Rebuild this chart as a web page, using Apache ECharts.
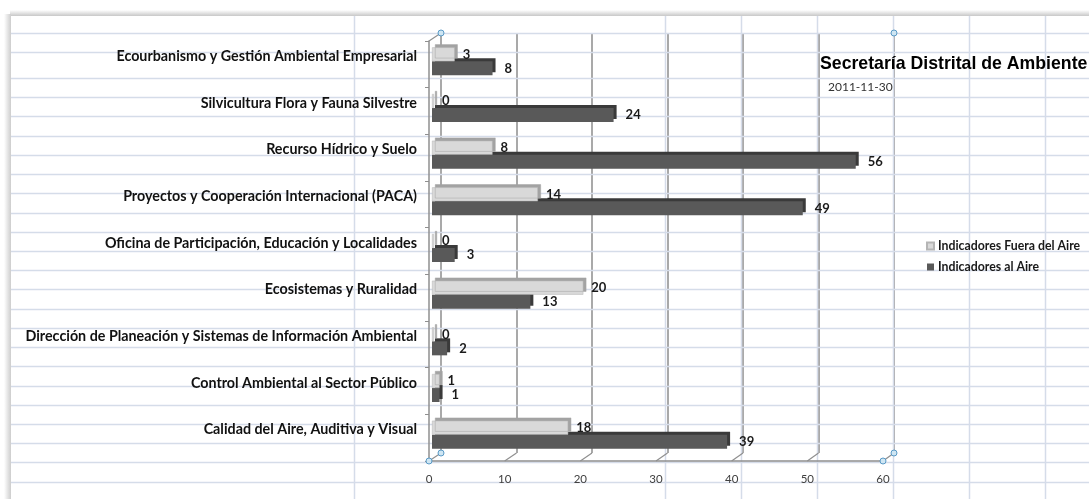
<!DOCTYPE html>
<html>
<head>
<meta charset="utf-8">
<script src="https://cdn.jsdelivr.net/npm/echarts/dist/echarts.min.js"></script>
<style>
html,body{margin:0;padding:0;background:#ffffff;}
#chart{width:1089px;height:499px;}
</style>
</head>
<body>
<div id="chart"></div>
<script>
// ---- data ----
const categories = [
  'Ecourbanismo y Gestión Ambiental Empresarial',
  'Silvicultura Flora y Fauna Silvestre',
  'Recurso Hídrico y Suelo',
  'Proyectos y Cooperación Internacional (PACA)',
  'Oficina de Participación, Educación y Localidades',
  'Ecosistemas y Ruralidad',
  'Dirección de Planeación y Sistemas de Información Ambiental',
  'Control Ambiental al Sector Público',
  'Calidad del Aire, Auditiva y Visual'
];
const fueraDelAire = [3, 0, 8, 14, 0, 20, 0, 1, 18];
const alAire = [8, 24, 56, 49, 3, 13, 2, 1, 39];
const seriesNames = ['Indicadores Fuera del Aire', 'Indicadores al Aire'];
const xMin = 0, xMax = 60, xStep = 10;
const titleText = 'Secretaría Distrital de Ambiente';
const subtitleText = '2011-11-30';

// ---- styling / layout ----
const LABEL_FONT = 'Lato, "Open Sans", sans-serif';
const SHEET_LINE = '#d5dce9';
const WALL_LINE = '#a9a9a9';
const AXIS_LINE = '#8f8f8f';

const chart = echarts.init(document.getElementById('chart'), null, {renderer: 'canvas'});

const option = {
  animation: false,
  backgroundColor: '#ffffff',
  title: [
    {text: titleText, left: 820, top: 55, padding: 0,
     textStyle: {fontFamily: '"Liberation Sans", Arial, sans-serif', fontWeight: 'bold', fontSize: 17.7, color: '#000'}},
    {text: subtitleText, left: 828, top: 81, padding: 0,
     textStyle: {fontFamily: LABEL_FONT, fontWeight: 'normal', fontSize: 12, color: '#333'}}
  ],
  legend: {
    orient: 'vertical', left: 926, top: 240, padding: 0,
    itemWidth: 7, itemHeight: 7, itemGap: 9, icon: 'rect',
    data: seriesNames,
    textStyle: {fontFamily: LABEL_FONT, fontWeight: 'bold', fontSize: 12.3, color: '#1a1a1a', padding: [0, 0, 0, -1]}
  },
  grid: [
    {left: 441, top: 33, width: 453, height: 420, outerBoundsMode: 'none', containLabel: false},
    {left: 429, top: 41, width: 454, height: 420, outerBoundsMode: 'none', containLabel: false},
    {left: 432, top: 38, width: 454, height: 420, outerBoundsMode: 'none', containLabel: false}
  ],
  xAxis: [
    {gridIndex: 0, type: 'value', min: xMin, max: xMax, interval: xStep,
     axisLine: {show: false}, axisTick: {show: false}, axisLabel: {show: false},
     splitLine: {show: true, lineStyle: {color: WALL_LINE, width: 2}}},
    {gridIndex: 1, type: 'value', min: xMin, max: xMax, interval: xStep,
     axisLine: {show: true, lineStyle: {color: AXIS_LINE, width: 1.5}},
     axisTick: {show: false},
     axisLabel: {show: true, margin: 12, fontFamily: LABEL_FONT, fontSize: 11.5, color: '#404040'},
     splitLine: {show: false}},
    {gridIndex: 2, type: 'value', min: xMin, max: xMax, interval: xStep, show: false,
     splitLine: {show: false}}
  ],
  yAxis: [
    {gridIndex: 0, type: 'category', inverse: true, data: categories,
     axisLine: {show: false}, axisTick: {show: false},
     axisLabel: {show: true, margin: 24, fontFamily: LABEL_FONT, fontWeight: 'bold', fontSize: 14.3, color: '#111'},
     splitLine: {show: false}},
    {gridIndex: 1, type: 'category', inverse: true, data: categories,
     axisLine: {show: true, lineStyle: {color: AXIS_LINE, width: 1.5}},
     axisTick: {show: true, inside: false, length: 4, lineStyle: {color: AXIS_LINE}},
     axisLabel: {show: false}, splitLine: {show: false}},
    {gridIndex: 2, type: 'category', inverse: true, data: categories, show: false}
  ],
  series: [
    {
      name: seriesNames[0], type: 'bar', xAxisIndex: 2, yAxisIndex: 2,
      data: fueraDelAire, barWidth: 14, barGap: '0%', barMinHeight: 2, z: 4,
      itemStyle: {color: '#d9d9d9', borderColor: '#b5b5b5', borderWidth: 0.5,
        shadowColor: '#a3a3a3', shadowBlur: 0, shadowOffsetX: 3, shadowOffsetY: -3},
      label: {show: true, position: 'right', distance: 8,
        fontFamily: LABEL_FONT, fontWeight: 'bold', fontSize: 13, color: '#1a1a1a'}
    },
    {
      name: seriesNames[1], type: 'bar', xAxisIndex: 2, yAxisIndex: 2,
      data: alAire, barWidth: 14, barGap: '0%', z: 3,
      itemStyle: {color: '#595959', shadowColor: '#3a3a3a', shadowBlur: 0, shadowOffsetX: 3, shadowOffsetY: -3},
      label: {show: true, position: 'right', distance: 12,
        fontFamily: LABEL_FONT, fontWeight: 'bold', fontSize: 13, color: '#1a1a1a'}
    }
  ],
  color: ['#d9d9d9', '#595959']
};

chart.setOption(option);

// ---- decorations: spreadsheet grid, frame shadow, 3D connectors, handles ----
const W = 1089, H = 499;
const g = [];
// frame shadows
g.push({type: 'rect', z: 0, silent: true, shape: {x: 10, y: 10, width: W - 10, height: 6},
  style: {fill: new echarts.graphic.LinearGradient(0, 0, 0, 1, [{offset: 0, color: 'rgba(255,255,255,1)'}, {offset: 1, color: 'rgba(200,200,200,1)'}])}});
g.push({type: 'rect', z: 0, silent: true, shape: {x: 4, y: 14, width: 7, height: H - 14},
  style: {fill: new echarts.graphic.LinearGradient(0, 0, 1, 0, [{offset: 0, color: 'rgba(255,255,255,1)'}, {offset: 1, color: 'rgba(205,205,205,1)'}])}});
// sheet rows
const rowYs = [33, 52];
for (let k = 0; 78 + 19.22 * k < H; k++) rowYs.push(78 + 19.22 * k);
rowYs.forEach(y => g.push({type: 'line', z: 0, silent: true,
  shape: {x1: 11, y1: Math.round(y) + 0.5, x2: W, y2: Math.round(y) + 0.5}, style: {stroke: SHEET_LINE, lineWidth: 1.5}}));
// sheet columns
[354, 665, 741, 817, 893, 969, 1045].forEach(x => g.push({type: 'line', z: 0, silent: true,
  shape: {x1: x + 0.5, y1: 16, x2: x + 0.5, y2: H}, style: {stroke: SHEET_LINE, lineWidth: 1.5}}));

// 3D connectors between front axis and back wall
const frontY = chart.convertToPixel({yAxisIndex: 1}, categories[categories.length - 1]) + 420 / 18;
const backY = chart.convertToPixel({yAxisIndex: 0}, categories[categories.length - 1]) + 420 / 18;
const frontTop = frontY - 420, backTop = backY - 420;
for (let v = xMin; v <= xMax; v += xStep) {
  const fx = chart.convertToPixel({xAxisIndex: 1}, v);
  const bx = chart.convertToPixel({xAxisIndex: 0}, v);
  g.push({type: 'line', z: 1, silent: true, shape: {x1: fx, y1: frontY, x2: bx, y2: backY},
    style: {stroke: AXIS_LINE, lineWidth: 1.2}});
}
const fx0 = chart.convertToPixel({xAxisIndex: 1}, xMin);
const bx0 = chart.convertToPixel({xAxisIndex: 0}, xMin);
const fxMax = chart.convertToPixel({xAxisIndex: 1}, xMax);
const bxMax = chart.convertToPixel({xAxisIndex: 0}, xMax);
g.push({type: 'line', z: 1, silent: true, shape: {x1: fx0, y1: frontTop, x2: bx0, y2: backTop},
  style: {stroke: AXIS_LINE, lineWidth: 1.2}});
// handles
[[bx0, backTop], [fx0, frontY], [bx0, backY], [fxMax, frontY], [bxMax, backY], [bxMax, backTop]].forEach(p =>
  g.push({type: 'circle', z: 20, silent: true, shape: {cx: p[0], cy: p[1], r: 3},
    style: {fill: '#cfe6f3', stroke: '#5a9ac6', lineWidth: 1}}));

chart.setOption({graphic: g});
</script>
</body>
</html>
